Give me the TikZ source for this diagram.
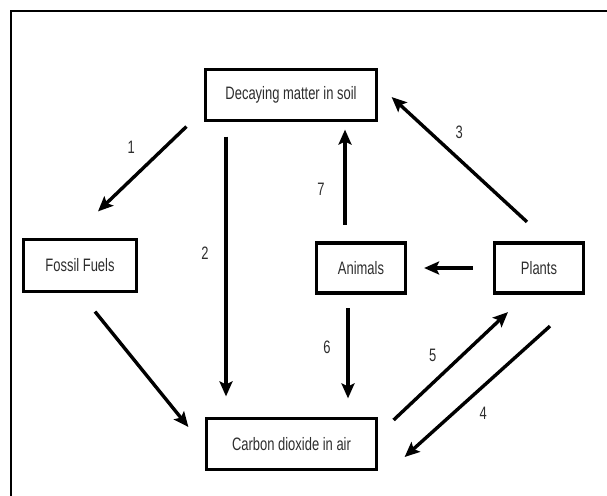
\documentclass[tikz,border=0pt]{standalone}
\usepackage{fontspec}
\setmainfont{Liberation Sans}[FakeStretch=0.72]
\usepackage{tikz}
\definecolor{ink}{RGB}{45,45,45}
\usetikzlibrary{arrows.meta}

\begin{document}
\begin{tikzpicture}[x=1pt, y=-1pt, >={Stealth[length=15pt, width=13pt, inset=3pt]},
    box/.style={draw, line width=3.2pt, inner sep=0pt, text=ink,
        font=\fontsize{18}{21}\selectfont},
    flow/.style={->, line width=3.4pt},
    num/.style={text=ink, font=\fontsize{18}{21}\selectfont}]
    \useasboundingbox (0,0) rectangle (607,495);
    % Khung
    \draw[line width=2.6pt] (11,520) -- (11,11) -- (640,11);
    % Các ô
    \node[box, minimum width=171pt, minimum height=51pt] (dec) at (291,95) {Decaying matter in soil};
    \node[box, minimum width=113pt, minimum height=52pt] (fossil) at (80,265.5) {Fossil Fuels};
    \node[box, minimum width=89pt, minimum height=50pt] (animals) at (361,268) {Animals};
    \node[box, minimum width=89pt, minimum height=50pt] (plants) at (539,268) {Plants};
    \node[box, minimum width=170pt, minimum height=51pt] (co2) at (291.5,444) {Carbon dioxide in air};
    % Các mũi tên
    \draw[flow] ([shift={(-17.5,4.5)}]dec.south west) -- ([shift={(18,-26.5)}]fossil.north)
        node[num, midway, xshift=-11pt, yshift=22pt] {1};
    \draw[flow] ([shift={(-65,14.5)}]dec.south) -- ([shift={(-65.5,-20.5)}]co2.north)
        node[num, midway, xshift=-21pt, yshift=13pt] {2};
    \draw[flow] ([shift={(-12,-19.5)}]plants.north) -- ([shift={(13.5,2)}]dec.east)
        node[num, midway, xshift=0pt, yshift=27pt] {3};
    \draw[flow] ([shift={(-16,-16.5)}]animals.north) -- ([shift={(54,7.5)}]dec.south)
        node[num, midway, xshift=-24pt, yshift=-12pt] {7};
    \draw[flow, shorten <=20pt, shorten >=17pt] (plants.west) -- (animals.east);
    \draw[flow] ([shift={(-13,13.5)}]animals.south) -- ([shift={(56.5,-18.5)}]co2.north)
        node[num, midway, xshift=-21pt, yshift=6pt] {6};
    \draw[flow] ([shift={(15.5,-24)}]co2.east) -- ([shift={(-31,17.5)}]plants.south)
        node[num, midway, xshift=-18pt, yshift=11pt] {5};
    \draw[flow] ([shift={(11,31.5)}]plants.south) -- ([shift={(26.5,13)}]co2.east)
        node[num, midway, xshift=6pt, yshift=-22pt] {4};
    \draw[flow] ([shift={(15,18.5)}]fossil.south) -- ([shift={(-16.5,-17)}]co2.west);
\end{tikzpicture}
\end{document}
